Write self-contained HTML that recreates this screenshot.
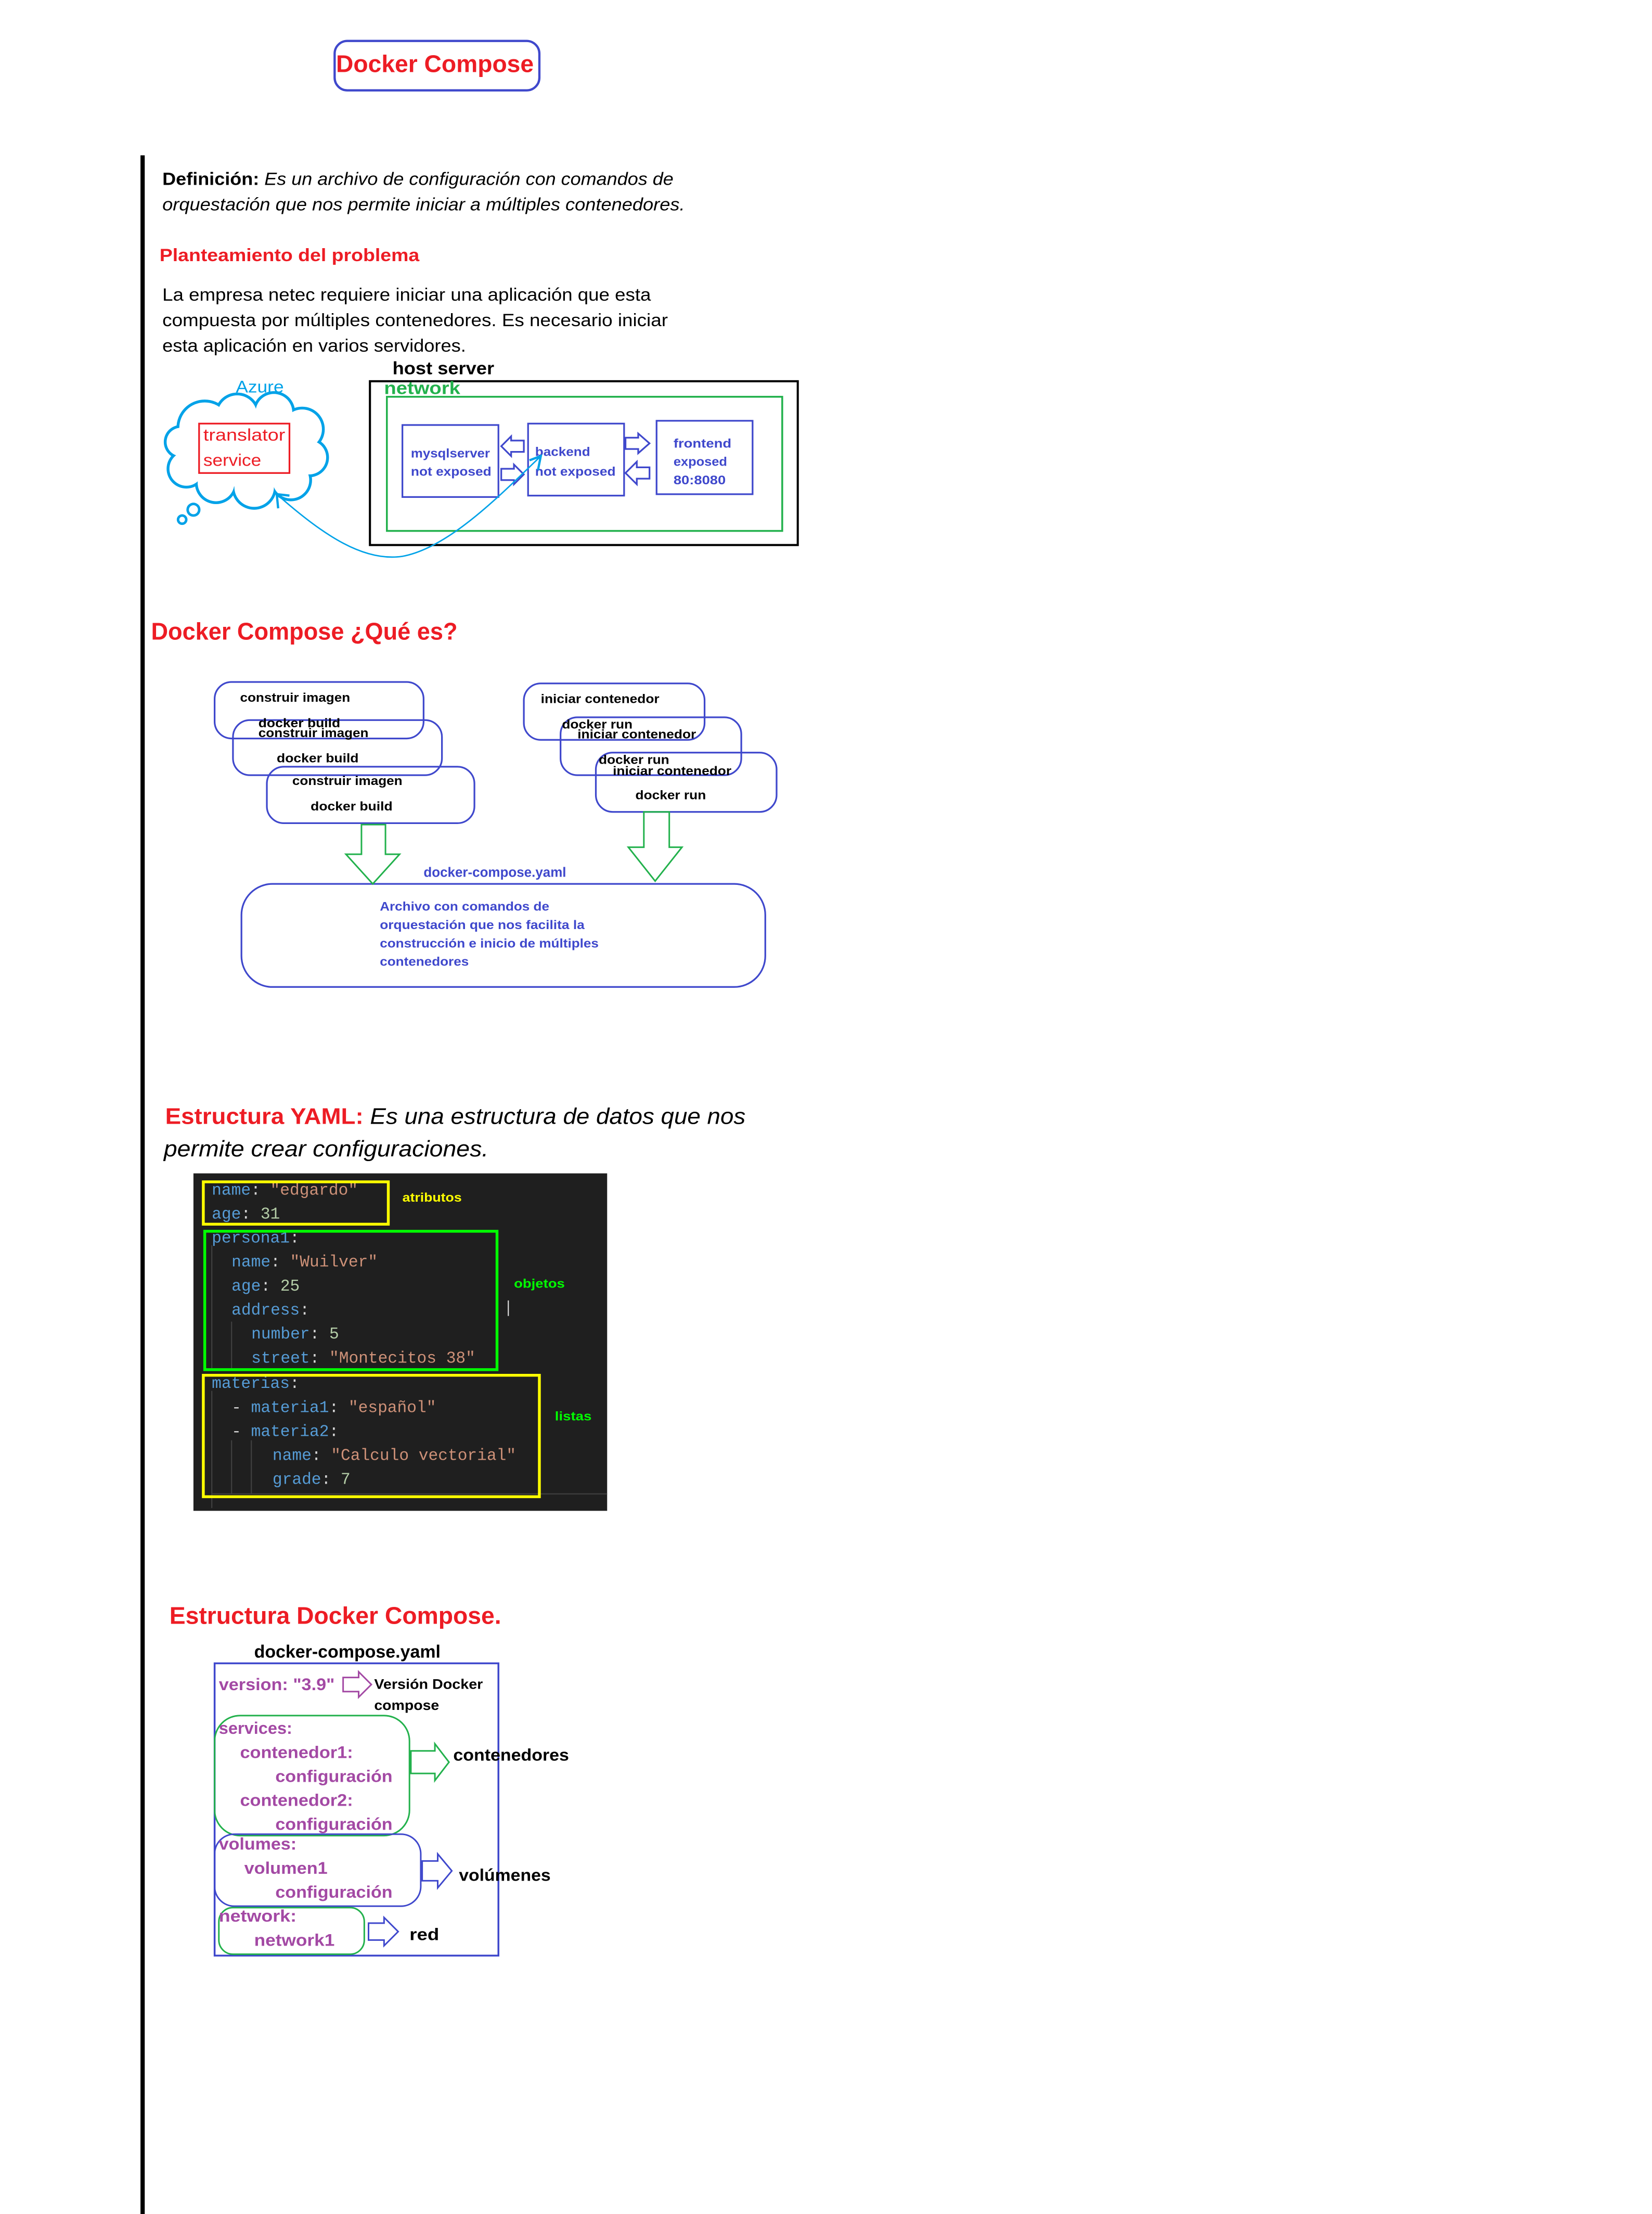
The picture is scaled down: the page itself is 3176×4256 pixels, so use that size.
<!DOCTYPE html>
<html><head><meta charset="utf-8"><style>
html,body{margin:0;padding:0;background:#fff;}
svg{display:block;}
.b{font-family:"Liberation Sans",sans-serif;font-weight:bold;}
.n{font-family:"Liberation Sans",sans-serif;}
.m{font-family:"Liberation Mono",monospace;}
</style></head><body>
<svg width="3176" height="4256" viewBox="0 0 1170 1568" preserveAspectRatio="none" xmlns="http://www.w3.org/2000/svg">
<rect width="1170" height="1568" fill="#fff"/>
<!-- title -->
<rect x="237" y="29" width="145" height="35" rx="9" fill="none" stroke="#3f48cc" stroke-width="1.6"/>
<text x="238" y="51" class="b" font-size="17" fill="#ed1c24" textLength="140" lengthAdjust="spacingAndGlyphs">Docker Compose</text>
<!-- vertical line -->
<rect x="99.5" y="110" width="3" height="1460" fill="#000"/>
<!-- definition -->
<text x="115" y="131" class="n" font-size="12.5" fill="#000" textLength="362" lengthAdjust="spacingAndGlyphs"><tspan font-weight="bold">Definición:</tspan><tspan font-style="italic"> Es un archivo de configuración con comandos de</tspan></text>
<text x="115" y="149" class="n" font-size="12.5" font-style="italic" fill="#000" textLength="370" lengthAdjust="spacingAndGlyphs">orquestación que nos permite iniciar a múltiples contenedores.</text>
<text x="113" y="185" class="b" font-size="12.5" fill="#ed1c24" textLength="184" lengthAdjust="spacingAndGlyphs">Planteamiento del problema</text>
<text x="115" y="213" class="n" font-size="12.5" fill="#000" textLength="346" lengthAdjust="spacingAndGlyphs">La empresa netec requiere iniciar una aplicación que esta</text>
<text x="115" y="231" class="n" font-size="12.5" fill="#000" textLength="358" lengthAdjust="spacingAndGlyphs">compuesta por múltiples contenedores. Es necesario iniciar</text>
<text x="115" y="249" class="n" font-size="12.5" fill="#000" textLength="215" lengthAdjust="spacingAndGlyphs">esta aplicación en varios servidores.</text>
<!-- host server -->
<text x="278" y="265" class="b" font-size="12.5" fill="#000" textLength="72" lengthAdjust="spacingAndGlyphs">host server</text>
<rect x="262" y="270" width="303" height="116" fill="none" stroke="#000" stroke-width="1.5"/>
<rect x="274" y="281" width="280" height="95" fill="none" stroke="#22b14c" stroke-width="1.3"/>
<text x="272" y="279" class="b" font-size="12.5" fill="#22b14c" textLength="54" lengthAdjust="spacingAndGlyphs">network</text>
<g fill="none" stroke="#3f48cc" stroke-width="1.2">
<rect x="285" y="301" width="68" height="51"/>
<rect x="374" y="300" width="68" height="51"/>
<rect x="465" y="298" width="68" height="52"/>
<polygon points="371,312 362,312 362,309 355,316 362,323 362,320 371,320"/>
<polygon points="355,332 364,332 364,329 371,336 364,343 364,340 355,340"/>
<polygon points="443,310 452,310 452,307 460,314 452,321 452,318 443,318"/>
<polygon points="460,331 451,331 451,327 443,335 451,343 451,339 460,339"/>
</g>
<g class="b" font-size="9" fill="#3f48cc">
<text x="291" y="324" textLength="56" lengthAdjust="spacingAndGlyphs">mysqlserver</text>
<text x="291" y="337" textLength="57" lengthAdjust="spacingAndGlyphs">not exposed</text>
<text x="379" y="323" textLength="39" lengthAdjust="spacingAndGlyphs">backend</text>
<text x="379" y="337" textLength="57" lengthAdjust="spacingAndGlyphs">not exposed</text>
<text x="477" y="317" textLength="41" lengthAdjust="spacingAndGlyphs">frontend</text>
<text x="477" y="330" textLength="38" lengthAdjust="spacingAndGlyphs">exposed</text>
<text x="477" y="343" textLength="37" lengthAdjust="spacingAndGlyphs">80:8080</text>
</g>
<!-- cloud -->
<g fill="#00a2e8">
<circle cx="145" cy="303" r="20"/><circle cx="168" cy="294" r="16"/><circle cx="194" cy="292" r="15"/>
<circle cx="214" cy="304" r="16"/><circle cx="219" cy="324" r="14"/><circle cx="206" cy="340" r="15"/>
<circle cx="180" cy="345" r="16"/><circle cx="153" cy="342" r="15"/><circle cx="132" cy="332" r="14"/>
<circle cx="128" cy="313" r="12"/><circle cx="175" cy="320" r="28"/>
<circle cx="137" cy="361" r="5"/><circle cx="129" cy="368" r="3.8"/>
</g>
<g fill="#fff">
<circle cx="145" cy="303" r="18"/><circle cx="168" cy="294" r="14"/><circle cx="194" cy="292" r="13"/>
<circle cx="214" cy="304" r="14"/><circle cx="219" cy="324" r="12"/><circle cx="206" cy="340" r="13"/>
<circle cx="180" cy="345" r="14"/><circle cx="153" cy="342" r="13"/><circle cx="132" cy="332" r="12"/>
<circle cx="128" cy="313" r="10"/><circle cx="175" cy="320" r="26"/>
<ellipse cx="174" cy="318" rx="44" ry="27"/>
<circle cx="137" cy="361" r="3.2"/><circle cx="129" cy="368" r="2"/>
</g>
<text x="167" y="278" class="n" font-size="12" fill="#00a2e8" textLength="34" lengthAdjust="spacingAndGlyphs">Azure</text>
<rect x="141" y="300" width="64" height="35" fill="none" stroke="#ed1c24" stroke-width="1.2"/>
<text x="144" y="312" class="n" font-size="12" fill="#ed1c24" textLength="58" lengthAdjust="spacingAndGlyphs">translator</text>
<text x="144" y="330" class="n" font-size="12" fill="#ed1c24" textLength="41" lengthAdjust="spacingAndGlyphs">service</text>
<path d="M196,350 C230,380 258,398 285,394 C318,388 355,350 383,323" fill="none" stroke="#00a2e8" stroke-width="1"/>
<path d="M197,360 L196,350 L205,351" fill="none" stroke="#00a2e8" stroke-width="1.6"/>
<path d="M381,333 L383,323 L375,326" fill="none" stroke="#00a2e8" stroke-width="1.6"/>
<!-- section 2 -->
<text x="107" y="453" class="b" font-size="17" fill="#ed1c24" textLength="217" lengthAdjust="spacingAndGlyphs">Docker Compose ¿Qué es?</text>
<g fill="none" stroke="#3f48cc" stroke-width="1.2">
<rect x="152" y="483" width="148" height="40" rx="12"/>
<rect x="165" y="510" width="148" height="39" rx="12"/>
<rect x="189" y="543" width="147" height="40" rx="12"/>
<rect x="371" y="484" width="128" height="40" rx="12"/>
<rect x="397" y="508" width="128" height="41" rx="12"/>
<rect x="422" y="533" width="128" height="42" rx="12"/>
<rect x="171" y="626" width="371" height="73" rx="22"/>
</g>
<g class="b" font-size="9" fill="#000">
<text x="170" y="497" textLength="78" lengthAdjust="spacingAndGlyphs">construir imagen</text>
<text x="183" y="515" textLength="58" lengthAdjust="spacingAndGlyphs">docker build</text>
<text x="183" y="522" textLength="78" lengthAdjust="spacingAndGlyphs">construir imagen</text>
<text x="196" y="540" textLength="58" lengthAdjust="spacingAndGlyphs">docker build</text>
<text x="207" y="556" textLength="78" lengthAdjust="spacingAndGlyphs">construir imagen</text>
<text x="220" y="574" textLength="58" lengthAdjust="spacingAndGlyphs">docker build</text>
<text x="383" y="498" textLength="84" lengthAdjust="spacingAndGlyphs">iniciar contenedor</text>
<text x="398" y="516" textLength="50" lengthAdjust="spacingAndGlyphs">docker run</text>
<text x="409" y="523" textLength="84" lengthAdjust="spacingAndGlyphs">iniciar contenedor</text>
<text x="424" y="541" textLength="50" lengthAdjust="spacingAndGlyphs">docker run</text>
<text x="434" y="549" textLength="84" lengthAdjust="spacingAndGlyphs">iniciar contenedor</text>
<text x="450" y="566" textLength="50" lengthAdjust="spacingAndGlyphs">docker run</text>
</g>
<g fill="none" stroke="#22b14c" stroke-width="1.1">
<polygon points="256,584 273,584 273,605 283,605 264,626 245,605 256,605"/>
<polygon points="456,575 474,575 474,600 483,600 464,624 445,600 456,600"/>
</g>
<text x="300" y="621" class="b" font-size="9.5" fill="#3f48cc" textLength="101" lengthAdjust="spacingAndGlyphs">docker-compose.yaml</text>
<g class="b" font-size="9" fill="#3f48cc">
<text x="269" y="645" textLength="120" lengthAdjust="spacingAndGlyphs">Archivo con comandos de</text>
<text x="269" y="658" textLength="145" lengthAdjust="spacingAndGlyphs">orquestación que nos facilita la</text>
<text x="269" y="671" textLength="155" lengthAdjust="spacingAndGlyphs">construcción e inicio de múltiples</text>
<text x="269" y="684" textLength="63" lengthAdjust="spacingAndGlyphs">contenedores</text>
</g>
<!-- section 3 -->
<text x="117" y="796" class="n" font-size="16" fill="#000" textLength="411" lengthAdjust="spacingAndGlyphs"><tspan font-weight="bold" fill="#ed1c24">Estructura YAML:</tspan><tspan font-style="italic"> Es una estructura de datos que nos</tspan></text>
<text x="116" y="819" class="n" font-size="16" font-style="italic" fill="#000" textLength="230" lengthAdjust="spacingAndGlyphs">permite crear configuraciones.</text>
<rect x="137" y="831" width="293" height="239" fill="#1f1f1f"/>
<g stroke="#404040" stroke-width="0.8">
<line x1="150" y1="882" x2="150" y2="969"/>
<line x1="164" y1="936" x2="164" y2="969"/>
<line x1="150" y1="985" x2="150" y2="1068"/>
<line x1="164" y1="1020" x2="164" y2="1058"/>
<line x1="178" y1="1020" x2="178" y2="1058"/>
<line x1="150" y1="1058" x2="430" y2="1058"/>
</g>
<g class="m" font-size="11.5">
<text x="150" y="846"><tspan fill="#569cd6">name</tspan><tspan fill="#d4d4d4">: </tspan><tspan fill="#ce9178">"edgardo"</tspan></text>
<text x="150" y="863"><tspan fill="#569cd6">age</tspan><tspan fill="#d4d4d4">: </tspan><tspan fill="#b5cea8">31</tspan></text>
<text x="150" y="880"><tspan fill="#569cd6">persona1</tspan><tspan fill="#d4d4d4">:</tspan></text>
<text x="164" y="897"><tspan fill="#569cd6">name</tspan><tspan fill="#d4d4d4">: </tspan><tspan fill="#ce9178">"Wuilver"</tspan></text>
<text x="164" y="914"><tspan fill="#569cd6">age</tspan><tspan fill="#d4d4d4">: </tspan><tspan fill="#b5cea8">25</tspan></text>
<text x="164" y="931"><tspan fill="#569cd6">address</tspan><tspan fill="#d4d4d4">:</tspan></text>
<text x="178" y="948"><tspan fill="#569cd6">number</tspan><tspan fill="#d4d4d4">: </tspan><tspan fill="#b5cea8">5</tspan></text>
<text x="178" y="965"><tspan fill="#569cd6">street</tspan><tspan fill="#d4d4d4">: </tspan><tspan fill="#ce9178">"Montecitos 38"</tspan></text>
<text x="150" y="983"><tspan fill="#569cd6">materias</tspan><tspan fill="#d4d4d4">:</tspan></text>
<text x="164" y="1000"><tspan fill="#d4d4d4">- </tspan><tspan fill="#569cd6">materia1</tspan><tspan fill="#d4d4d4">: </tspan><tspan fill="#ce9178">"español"</tspan></text>
<text x="164" y="1017"><tspan fill="#d4d4d4">- </tspan><tspan fill="#569cd6">materia2</tspan><tspan fill="#d4d4d4">:</tspan></text>
<text x="193" y="1034"><tspan fill="#569cd6">name</tspan><tspan fill="#d4d4d4">: </tspan><tspan fill="#ce9178">"Calculo vectorial"</tspan></text>
<text x="193" y="1051"><tspan fill="#569cd6">grade</tspan><tspan fill="#d4d4d4">: </tspan><tspan fill="#b5cea8">7</tspan></text>
</g>
<rect x="144" y="837" width="131" height="30" fill="none" stroke="#ffff00" stroke-width="2"/>
<rect x="145" y="872" width="207" height="98" fill="none" stroke="#00ff00" stroke-width="2"/>
<rect x="144" y="974" width="238" height="86" fill="none" stroke="#ffff00" stroke-width="2"/>
<line x1="360" y1="921" x2="360" y2="932" stroke="#ddd" stroke-width="0.8"/>
<text x="285" y="851" class="b" font-size="9" fill="#ffff00" textLength="42" lengthAdjust="spacingAndGlyphs">atributos</text>
<text x="364" y="912" class="b" font-size="9" fill="#00ff00" textLength="36" lengthAdjust="spacingAndGlyphs">objetos</text>
<text x="393" y="1006" class="b" font-size="9" fill="#00ff00" textLength="26" lengthAdjust="spacingAndGlyphs">listas</text>
<!-- section 4 -->
<text x="120" y="1150" class="b" font-size="17" fill="#ed1c24" textLength="235" lengthAdjust="spacingAndGlyphs">Estructura Docker Compose.</text>
<text x="180" y="1174" class="b" font-size="12.5" fill="#000" textLength="132" lengthAdjust="spacingAndGlyphs">docker-compose.yaml</text>
<rect x="152" y="1178" width="201" height="207" fill="none" stroke="#3f48cc" stroke-width="1.3"/>
<rect x="152" y="1215" width="138" height="85" rx="18" fill="none" stroke="#22b14c" stroke-width="1.1"/>
<rect x="152" y="1299" width="146" height="51" rx="14" fill="none" stroke="#3f48cc" stroke-width="1.1"/>
<rect x="155" y="1351" width="103" height="33" rx="10" fill="none" stroke="#22b14c" stroke-width="1.1"/>
<polygon points="243,1188 254,1188 254,1184 263,1193 254,1202 254,1198 243,1198" fill="none" stroke="#a349a4" stroke-width="1.1"/>
<polygon points="291,1240 308,1240 308,1235 318,1248 308,1261 308,1256 291,1256" fill="none" stroke="#22b14c" stroke-width="1.1"/>
<polygon points="299,1318 310,1318 310,1313 320,1325 310,1337 310,1332 299,1332" fill="none" stroke="#3f48cc" stroke-width="1.1"/>
<polygon points="261,1362 272,1362 272,1358 282,1368 272,1378 272,1374 261,1374" fill="none" stroke="#3f48cc" stroke-width="1.1"/>
<g class="b" font-size="12" fill="#a349a4">
<text x="155" y="1197" textLength="82" lengthAdjust="spacingAndGlyphs">version: "3.9"</text>
<text x="155" y="1228" textLength="52" lengthAdjust="spacingAndGlyphs">services:</text>
<text x="170" y="1245" textLength="80" lengthAdjust="spacingAndGlyphs">contenedor1:</text>
<text x="195" y="1262" textLength="83" lengthAdjust="spacingAndGlyphs">configuración</text>
<text x="170" y="1279" textLength="80" lengthAdjust="spacingAndGlyphs">contenedor2:</text>
<text x="195" y="1296" textLength="83" lengthAdjust="spacingAndGlyphs">configuración</text>
<text x="155" y="1310" textLength="55" lengthAdjust="spacingAndGlyphs">volumes:</text>
<text x="173" y="1327" textLength="59" lengthAdjust="spacingAndGlyphs">volumen1</text>
<text x="195" y="1344" textLength="83" lengthAdjust="spacingAndGlyphs">configuración</text>
<text x="155" y="1361" textLength="55" lengthAdjust="spacingAndGlyphs">network:</text>
<text x="180" y="1378" textLength="57" lengthAdjust="spacingAndGlyphs">network1</text>
</g>
<g class="b" fill="#000">
<text x="265" y="1196" font-size="10" textLength="77" lengthAdjust="spacingAndGlyphs">Versión Docker</text>
<text x="265" y="1211" font-size="10" textLength="46" lengthAdjust="spacingAndGlyphs">compose</text>
<text x="321" y="1247" font-size="12" textLength="82" lengthAdjust="spacingAndGlyphs">contenedores</text>
<text x="325" y="1332" font-size="12" textLength="65" lengthAdjust="spacingAndGlyphs">volúmenes</text>
<text x="290" y="1374" font-size="12" textLength="21" lengthAdjust="spacingAndGlyphs">red</text>
</g>
</svg>
</body></html>
